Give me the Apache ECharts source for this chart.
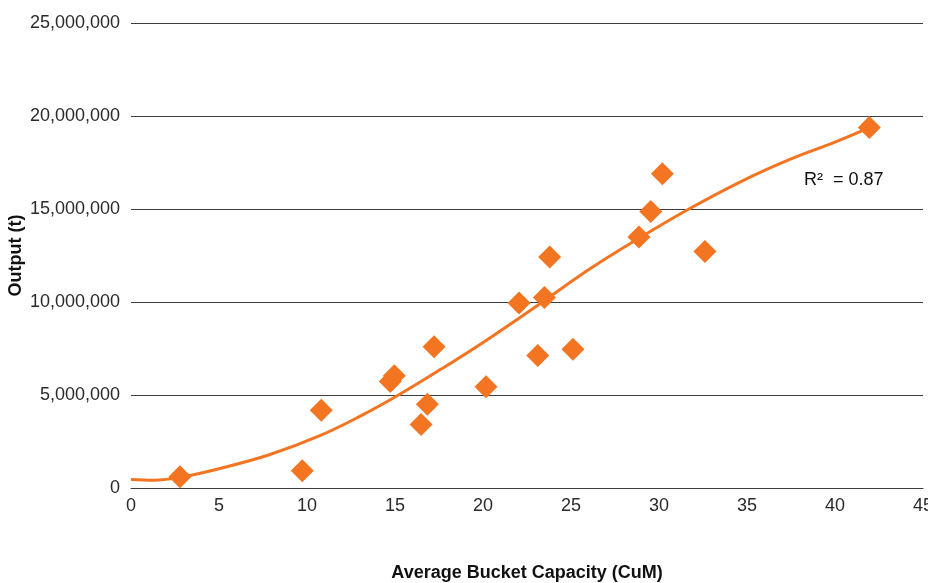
<!DOCTYPE html>
<html>
<head>
<meta charset="utf-8">
<title>Output vs Average Bucket Capacity</title>
<script src="https://cdn.jsdelivr.net/npm/echarts@6/dist/echarts.min.js"></script>
<style>
  html, body { margin: 0; padding: 0; background: #ffffff; }
  #chart { width: 928px; height: 583px; }
</style>
</head>
<body>
<div id="chart"></div>
<script>
// bucket capacity (CuM) and output (t)
const capacity = [2.78, 9.73, 10.81, 14.73, 14.96, 16.84, 16.48, 17.22, 20.17, 22.05,
  23.11, 23.49, 23.79, 25.11, 28.86, 29.53, 30.19, 32.61, 41.95];
const output = [610000, 930000, 4180000, 5720000, 6030000, 4500000, 3410000, 7600000, 5440000, 9940000,
  7120000, 10240000, 12420000, 7460000, 13490000, 14870000, 16900000, 12720000, 19380000];

// polynomial trend line
const trendX = [0, 1.3, 2.8, 5.1, 7.9, 10.7, 13, 15.2, 17.6, 20.2, 23.3, 26.1, 28.9, 31.7, 34.6, 37.4, 40, 41.95];
const trendY = [460000, 420000, 570000, 1060000, 1800000, 2800000, 3850000, 5000000, 6380000, 7950000,
  9950000, 11800000, 13450000, 15000000, 16450000, 17650000, 18600000, 19380000];

const rSquared = '0.87';

const orange = '#f37421';
const gridColor = '#3d3d3d';
const font = '"Liberation Sans", Arial, sans-serif';

const chart = echarts.init(document.getElementById('chart'));

chart.setOption({
  animation: false,
  textStyle: { fontFamily: font },
  grid: { left: 131, right: 5, top: 23, bottom: 95, outerBoundsMode: 'none', containLabel: false },
  xAxis: {
    type: 'value',
    min: 0,
    max: 45,
    interval: 5,
    name: 'Average Bucket Capacity (CuM)',
    nameLocation: 'middle',
    nameGap: 76,
    nameMoveOverlap: false,
    nameTextStyle: { fontFamily: font, fontSize: 18, fontWeight: 'bold', color: '#111' },
    axisLine: { show: true, lineStyle: { color: gridColor, width: 1 } },
    axisTick: { show: false },
    splitLine: { show: false },
    axisLabel: { fontFamily: font, fontSize: 18, color: '#2b2b2b', margin: 9 }
  },
  yAxis: {
    type: 'value',
    min: 0,
    max: 25000000,
    interval: 5000000,
    name: 'Output (t)',
    nameLocation: 'middle',
    nameGap: 106,
    nameMoveOverlap: false,
    nameTextStyle: { fontFamily: font, fontSize: 18, fontWeight: 'bold', color: '#111' },
    axisLine: { show: false },
    axisTick: { show: false },
    splitLine: { show: true, lineStyle: { color: gridColor, width: 1 } },
    axisLabel: {
      fontFamily: font,
      fontSize: 18,
      color: '#2b2b2b',
      margin: 11,
      formatter: v => v.toLocaleString('en-US')
    }
  },
  series: [
    {
      name: 'Output',
      type: 'scatter',
      symbol: 'diamond',
      symbolSize: 23,
      itemStyle: { color: orange, opacity: 1 },
      data: capacity.map((c, i) => [c, output[i]]),
      z: 2
    },
    {
      name: 'Trend',
      type: 'line',
      smooth: 0.4,
      showSymbol: false,
      symbol: 'none',
      lineStyle: { color: orange, width: 3 },
      data: trendX.map((x, i) => [x, trendY[i]]),
      z: 3
    }
  ],
  graphic: [
    {
      type: 'text',
      left: 804,
      top: 171,
      style: {
        text: 'R²  = ' + rSquared,
        font: '18px ' + font,
        fill: '#111'
      }
    }
  ]
});
</script>
</body>
</html>
